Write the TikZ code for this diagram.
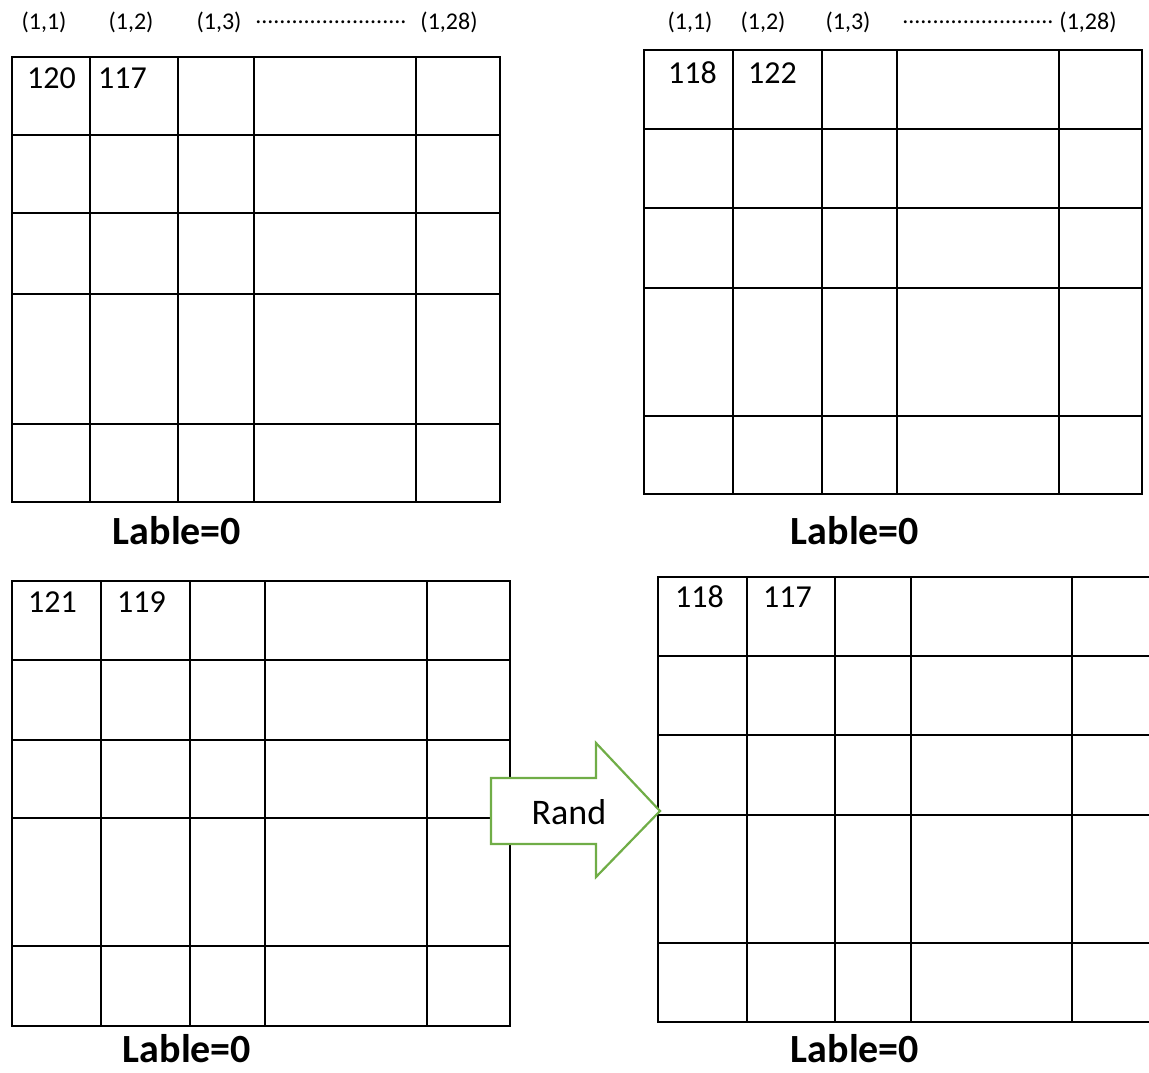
\documentclass[tikz,border=0pt]{standalone}
\usepackage{fontspec}
\setmainfont{Carlito}
\definecolor{randgreen}{RGB}{112,173,71}
\begin{document}
\begin{tikzpicture}[x=1pt,y=-1pt,
    cell/.style={line width=2.3pt,line cap=rect},
    idx/.style={inner sep=0pt,font=\fontsize{24}{26}\selectfont},
    val/.style={inner sep=0pt,anchor=west,font=\fontsize{32}{34}\selectfont},
    lab/.style={inner sep=0pt,font=\fontsize{40}{44}\selectfont\bfseries},
    randarrow/.style={draw=randgreen,line width=2.2pt,fill=white,line join=miter}]
    \useasboundingbox (0,0) rectangle (1149,1073);
    \def\dotrow{.........................}
    % top left
    \foreach \x in {12,90,178,254,416,500}
        {\draw[cell] (\x,57)--(\x,502);}
    \foreach \y in {57,135,213,294,424,502}
        {\draw[cell] (12,\y)--(500,\y);}
    \node[idx] (tlA) at (44,22) {(1,1)};
    \node[idx] (tlB) at (131,22) {(1,2)};
    \node[idx] (tlC) at (219,22) {(1,3)};
    \node[idx] (tlD) at (331,22) {\dotrow};
    \node[idx] (tlE) at (449,22) {(1,28)};
    \node[val] (tlv1) at (27,78) {120};
    \node[val] (tlv2) at (98,78) {117};
    \node[lab] (tllab) at (177,531) {Lable=0};
    % top right
    \foreach \x in {644,733,822,897,1059,1142}
        {\draw[cell] (\x,50)--(\x,494);}
    \foreach \y in {50,129,208,288,416,494}
        {\draw[cell] (644,\y)--(1142,\y);}
    \node[idx] (trA) at (690,22) {(1,1)};
    \node[idx] (trB) at (763,22) {(1,2)};
    \node[idx] (trC) at (848,22) {(1,3)};
    \node[idx] (trD) at (978,22) {\dotrow};
    \node[idx] (trE) at (1088,22) {(1,28)};
    \node[val] (trv1) at (668,73) {118};
    \node[val] (trv2) at (748,73) {122};
    \node[lab] (trlab) at (855,531) {Lable=0};
    % bottom left
    \foreach \x in {12,101,190,265,427,510}
        {\draw[cell] (\x,581)--(\x,1026);}
    \foreach \y in {581,660,740,818,946,1026}
        {\draw[cell] (12,\y)--(510,\y);}
    \node[val] (blv1) at (28,602) {121};
    \node[val] (blv2) at (117,602) {119};
    \node[lab] (bllab) at (187,1049) {Lable=0};
    % bottom right, cut at the page edge
    \foreach \x in {658,747,835,911,1072}
        {\draw[cell] (\x,577)--(\x,1022);}
    \foreach \y in {577,656,735,815,943,1022}
        {\draw[cell] (658,\y)--(1149,\y);}
    \node[val] (brv1) at (675,597) {118};
    \node[val] (brv2) at (763,597) {117};
    \node[lab] (brlab) at (855,1049) {Lable=0};
    % arrow
    \draw[randarrow] (491,778)--(596,778)--(596,743)--(660,811)
        --(596,877)--(596,844)--(491,844)--cycle;
    \node[inner sep=0pt,font=\fontsize{36}{38}\selectfont] (rand) at (569,812) {Rand};
\end{tikzpicture}
\end{document}
